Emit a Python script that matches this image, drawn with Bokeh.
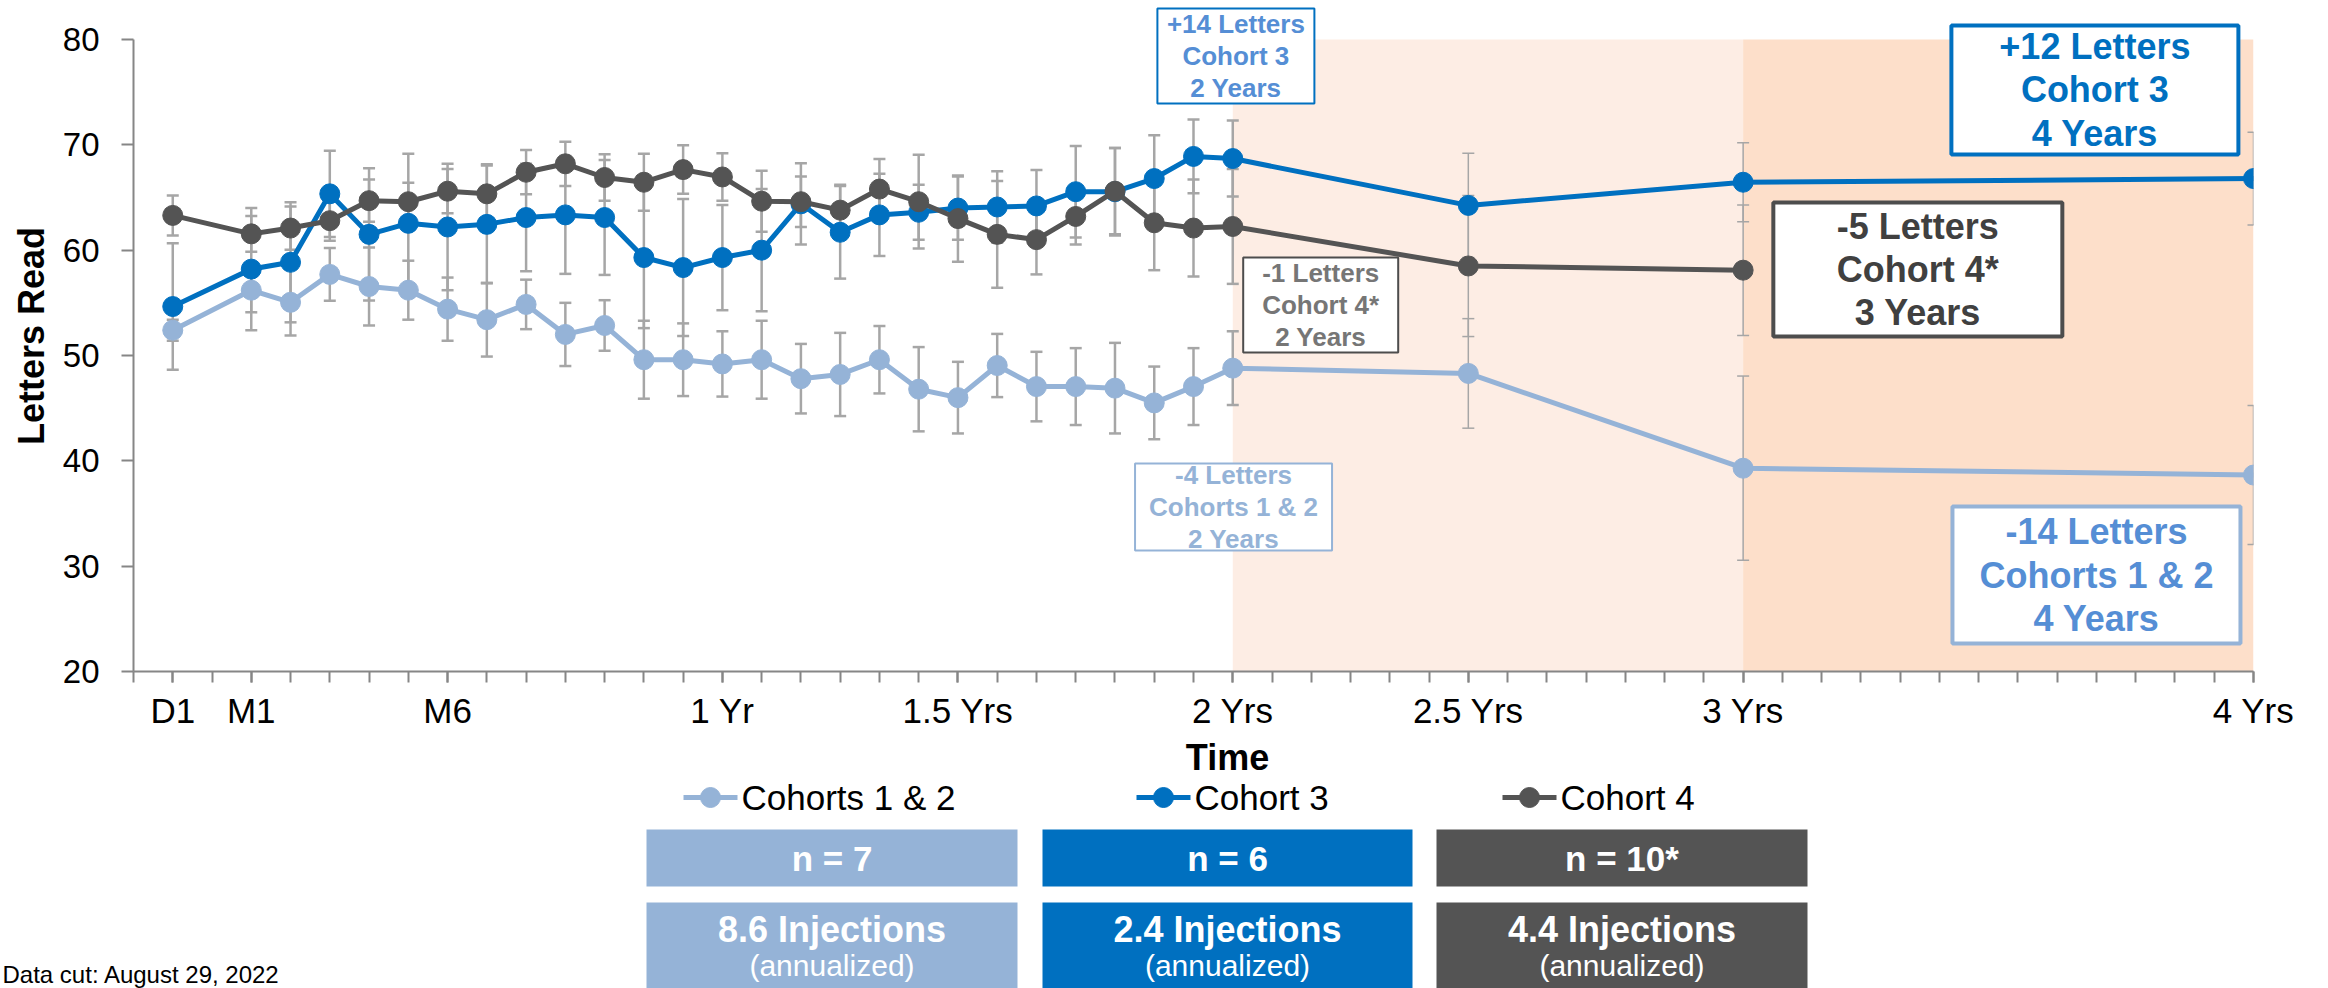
from bokeh.plotting import figure
from bokeh.models import Range1d, FixedTicker, ColumnDataSource, Whisker, TeeHead
from bokeh.layouts import column, row
from bokeh.embed import file_html
from bokeh.resources import INLINE
from bokeh.core.properties import value

FONT = "Liberation Sans"

# ---------------- data ----------------
visits = [1, 3, 4, 5, 6, 7, 8, 9, 10, 11, 12, 13, 14, 15, 16, 17, 18, 19, 20,
          21, 22, 23, 24, 25, 26, 27, 28, 34, 41, 54]
axis_slots = [0, 1, 2, 3, 4, 5, 6, 7, 8, 9, 10, 11, 12, 13, 14, 15, 16, 17, 18,
              19, 20, 21, 22, 23, 24, 25, 26, 27, 28, 29, 30, 31, 32, 33, 34, 35,
              36, 37, 38, 39, 40, 41, 42, 43, 44, 45, 46, 47, 48, 49, 50, 51, 52,
              53, 54]
tick_pos = [1, 3, 8, 15, 21, 28, 34, 41, 54]
tick_text = ["D1", "M1", "M6", "1 Yr", "1.5 Yrs", "2 Yrs", "2.5 Yrs", "3 Yrs", "4 Yrs"]
y_ticks = [20, 30, 40, 50, 60, 70, 80]

c12_mean = [52.4, 56.2, 55.05, 57.7, 56.55, 56.2, 54.4, 53.4, 54.85, 52.0, 52.85,
            49.6, 49.6, 49.2, 49.6, 47.8, 48.2, 49.6, 46.8, 46.0, 49.05, 47.05,
            47.05, 46.9, 45.5, 47.05, 48.8, 48.3, 39.3, 38.65]
c12_err = [1.0, 2.1, 3.15, 2.5, 3.7, 2.8, 3.0, 3.5, 2.35, 3.0, 2.4, 3.7, 3.45,
           3.1, 3.7, 3.3, 3.95, 3.2, 4.0, 3.4, 3.0, 3.3, 3.65, 4.3, 3.45, 3.65,
           3.5, 5.2, 8.75, 6.6]
c3_mean = [54.65, 58.2, 58.85, 65.35, 61.5, 62.55, 62.2, 62.45, 63.1, 63.35, 63.1,
           59.3, 58.35, 59.3, 60.0, 64.4, 61.7, 63.35, 63.6, 64.0, 64.1, 64.2,
           65.55, 65.55, 66.8, 68.9, 68.7, 64.25, 66.45, 66.8]
c3_err = [6.0, 5.8, 5.7, 4.1, 6.28, 6.6, 6.0, 5.6, 5.1, 5.6, 5.45, 6.7, 6.5, 5.0,
          5.8, 3.85, 4.4, 3.9, 2.6, 3.0, 3.4, 3.4, 4.35, 4.15, 4.1, 3.5, 3.6,
          4.95, 3.75, 4.4]
c4_mean = [63.3, 61.55, 62.1, 62.8, 64.7, 64.6, 65.6, 65.35, 67.4, 68.2, 66.9,
           66.45, 67.65, 66.95, 64.65, 64.6, 63.8, 65.8, 64.6, 63.0, 61.5, 61.0,
           63.2, 65.6, 62.6, 62.1, 62.25, 58.5, 58.1]
c4_err = [1.9, 1.7, 2.05, 1.9, 2.0, 1.8, 2.1, 2.8, 2.1, 2.1, 2.2, 2.7, 2.3, 2.25,
          2.9, 2.4, 2.4, 2.85, 4.45, 4.1, 5.07, 3.3, 2.65, 4.1, 4.5, 4.6, 5.45,
          6.7, 6.2]

series_names = ["Cohorts 1 & 2", "Cohort 3", "Cohort 4"]
series_colors = ["#95B3D7", "#0070C0", "#545454"]
n_labels = ["n = 7", "n = 6", "n = 10*"]
injections = ["8.6 Injections", "2.4 Injections", "4.4 Injections"]
data_cut = "Data cut: August 29, 2022"

# extension-period shading (axis slots)
shade_left = [28, 41]
shade_right = [41, 54]
shade_colors = ["#FDEDE4", "#FDDFCA"]

callouts = [
    # text, x, y, box w, box h, text colour, border colour, border width, font size
    ("+14 Letters\nCohort 3\n2 Years", 28.08, 78.43, 157, 95, "#558ED5", "#0070C0", 2, "26px"),
    ("-1 Letters\nCohort 4*\n2 Years", 30.24, 54.79, 155, 95, "#767676", "#4D4D4D", 2, "26px"),
    ("-4 Letters\nCohorts 1 & 2\n2 Years", 28.02, 35.62, 197, 87, "#95B3D7", "#95B3D7", 2, "26px"),
    ("+12 Letters\nCohort 3\n4 Years", 49.96, 75.21, 287, 129, "#0070C0", "#0070C0", 4, "36px"),
    ("-5 Letters\nCohort 4*\n3 Years", 45.45, 58.16, 289, 134, "#404040", "#4D4D4D", 4, "36px"),
    ("-14 Letters\nCohorts 1 & 2\n4 Years", 50.0, 29.16, 288, 137, "#558ED5", "#95B3D7", 4, "36px"),
]

# ---------------- main chart ----------------
p = figure(width=2328, height=734, x_range=Range1d(0, 54),
           y_range=Range1d(20, 83.703), toolbar_location=None,
           output_backend="svg", min_border_left=133, min_border_right=75,
           min_border_top=0, min_border_bottom=63, outline_line_color=None)
p.grid.visible = False
p.background_fill_color = "white"

shade = p.quad(left=shade_left, right=shade_right, bottom=20, top=80,
               fill_color=shade_colors, line_color=None)
shade.level = "image"

series = [(c12_mean, c12_err), (c3_mean, c3_err), (c4_mean, c4_err)]
for mean, err in series:
    xs = visits[:len(mean)]
    for early in (True, False):
        idx = [i for i, x in enumerate(xs) if (x <= 28) == early]
        if not idx:
            continue
        src = ColumnDataSource(dict(
            x=[xs[i] for i in idx],
            lo=[mean[i] - err[i] for i in idx],
            hi=[mean[i] + err[i] for i in idx]))
        lw = 2.5 if early else 1.5
        w = Whisker(base="x", lower="lo", upper="hi", source=src,
                    dimension="height", line_color="#A6A6A6", line_width=lw,
                    upper_head=TeeHead(size=12, line_color="#A6A6A6", line_width=lw),
                    lower_head=TeeHead(size=12, line_color="#A6A6A6", line_width=lw),
                    level="underlay")
        p.add_layout(w)

for (mean, err), col in zip(series, series_colors):
    xs = visits[:len(mean)]
    p.line(xs, mean, line_color=col, line_width=5)
    p.scatter(xs, mean, size=20, fill_color=col, line_color=col)

for txt, cx, cy, bw, bh, tc, bc, blw, fs in callouts:
    p.rect(x=[cx], y=[cy], width=bw, height=bh, width_units="screen",
           height_units="screen", fill_color="white", line_color=bc,
           line_width=blw)
    p.text(x=[cx], y=[cy], text=[txt], text_font=value(FONT),
           text_font_style="bold", text_font_size=fs, text_color=tc,
           text_align="center", text_baseline="middle", text_line_height=1.06)

xa = p.xaxis[0]
xa.ticker = FixedTicker(ticks=tick_pos, minor_ticks=axis_slots)
xa.major_label_overrides = {t: s for t, s in zip(tick_pos, tick_text)}
xa.axis_line_color = "#868686"
xa.axis_line_width = 2
xa.major_tick_line_color = "#868686"
xa.minor_tick_line_color = "#868686"
xa.major_tick_line_width = 2
xa.minor_tick_line_width = 2
xa.major_tick_out = 11
xa.minor_tick_out = 11
xa.major_tick_in = 0
xa.minor_tick_in = 0
xa.major_label_text_font = FONT
xa.major_label_text_font_size = "35px"
xa.major_label_text_color = "black"
xa.major_label_standoff = 8

ya = p.yaxis[0]
ya.ticker = FixedTicker(ticks=y_ticks)
ya.bounds = (20, 80)
ya.axis_line_color = "#868686"
ya.axis_line_width = 2
ya.major_tick_line_color = "#868686"
ya.major_tick_line_width = 2
ya.minor_tick_line_color = None
ya.major_tick_out = 12
ya.major_tick_in = 0
ya.major_label_text_font = FONT
ya.major_label_text_font_size = "33px"
ya.major_label_text_color = "black"
ya.major_label_standoff = 22
ya.axis_label = "Letters Read"
ya.axis_label_text_font = FONT
ya.axis_label_text_font_size = "36px"
ya.axis_label_text_font_style = "bold"
ya.axis_label_text_color = "black"
ya.axis_label_standoff = 8

# ---------------- footer (title, legend, summary boxes) ----------------
# coordinates in page pixels; left strip carries the data-cut note
r = figure(width=640, height=254, x_range=Range1d(0, 640),
           y_range=Range1d(988, 734), toolbar_location=None,
           output_backend="svg", x_axis_location=None, y_axis_location=None,
           min_border_left=0, min_border_right=0, min_border_top=0,
           min_border_bottom=0, outline_line_color=None)
r.grid.visible = False
r.text(x=[2], y=[974], text=[data_cut], text_font=value(FONT),
       text_font_size="24px", text_color="black", text_align="left",
       text_baseline="middle")

q = figure(width=1688, height=254, x_range=Range1d(640, 2253),
           y_range=Range1d(988, 734), toolbar_location=None,
           output_backend="svg", x_axis_location=None, y_axis_location=None,
           min_border_left=0, min_border_right=75, min_border_top=0,
           min_border_bottom=0, outline_line_color=None)
q.grid.visible = False

q.text(x=[1227], y=[757], text=["Time"], text_font=value(FONT),
       text_font_style="bold", text_font_size="36px", text_color="black",
       text_align="center", text_baseline="middle")

leg_marker_x = [710, 1163, 1529]
leg_y = 797
for name, col, mx in zip(series_names, series_colors, leg_marker_x):
    q.line([mx - 27, mx + 27], [leg_y, leg_y], line_color=col, line_width=5)
    q.scatter([mx], [leg_y], size=20, fill_color=col, line_color=col)
    q.text(x=[mx + 31], y=[leg_y], text=[name], text_font=value(FONT),
           text_font_size="35px", text_color="black", text_align="left",
           text_baseline="middle")

box_left = [646, 1042, 1436]
box_right = [1017, 1412, 1807]
for col, bl, br, nl, inj in zip(series_colors, box_left, box_right, n_labels, injections):
    q.quad(left=[bl], right=[br], top=[829], bottom=[886], fill_color=col,
           line_color=None)
    q.quad(left=[bl], right=[br], top=[902], bottom=[990], fill_color=col,
           line_color=None)
    cx = (bl + br) / 2
    q.text(x=[cx], y=[858], text=[nl], text_font=value(FONT),
           text_font_style="bold", text_font_size="35px", text_color="white",
           text_align="center", text_baseline="middle")
    q.text(x=[cx], y=[929], text=[inj], text_font=value(FONT),
           text_font_style="bold", text_font_size="36px", text_color="white",
           text_align="center", text_baseline="middle")
    q.text(x=[cx], y=[965], text=["(annualized)"], text_font=value(FONT),
           text_font_size="30px", text_color="white",
           text_align="center", text_baseline="middle")

layout = column(p, row(r, q, spacing=0), spacing=0)
open("out.html", "w").write(file_html(layout, INLINE))
